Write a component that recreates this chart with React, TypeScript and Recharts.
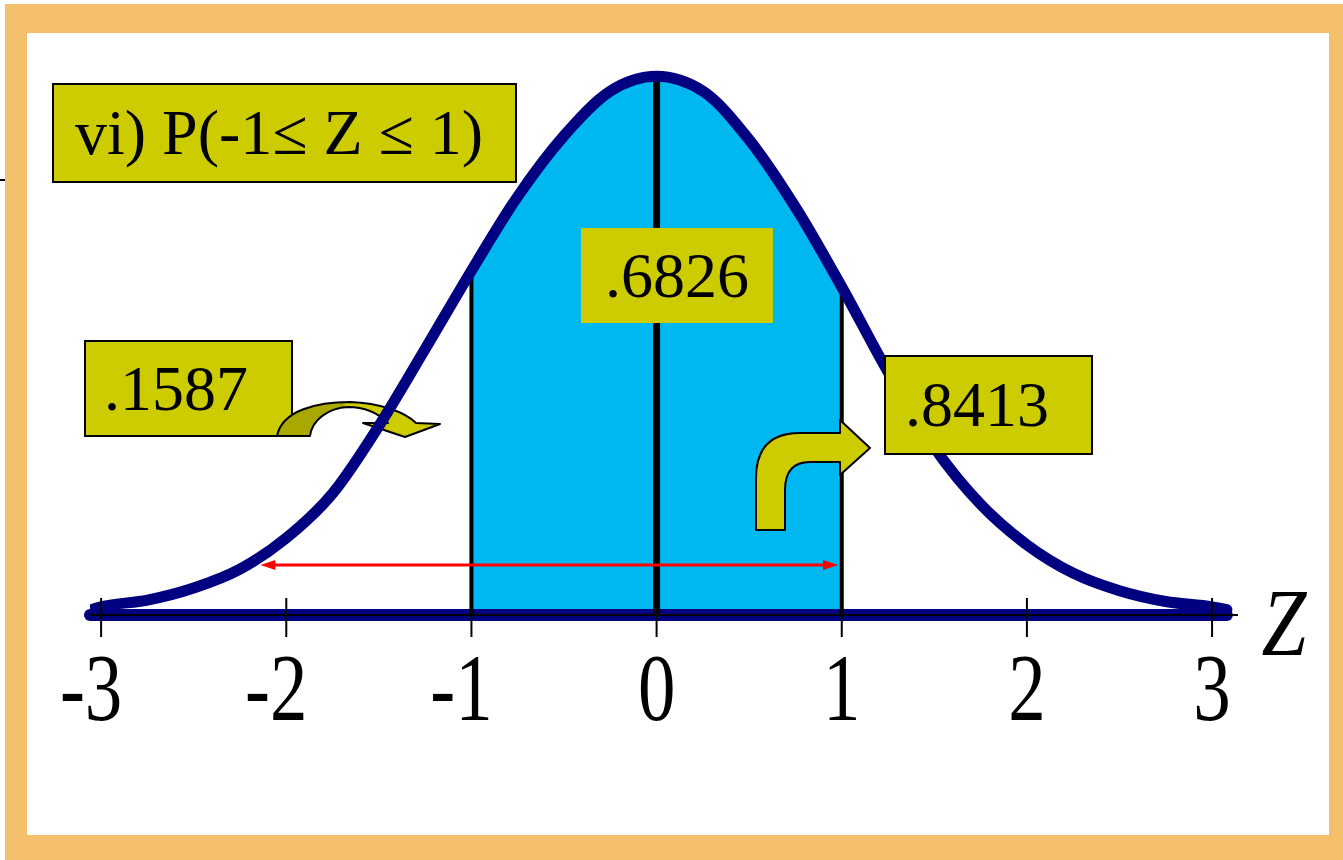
import {
  Area,
  ComposedChart,
  Line,
  ReferenceLine,
  XAxis,
  YAxis,
} from 'recharts';

// z positions and curve height (density units)
const zValues = [
  -3.05, -3, -2.75, -2.5, -2.25, -2, -1.75, -1.5, -1.25, -1, -0.75, -0.5, -0.25, 0,
  0.25, 0.5, 0.75, 1, 1.25, 1.5, 1.75, 2, 2.25, 2.5, 2.75, 3, 3.08,
];
const density = [
  0.004, 0.006, 0.011, 0.02, 0.034, 0.057, 0.09, 0.14, 0.197, 0.255, 0.31, 0.355, 0.388, 0.399,
  0.388, 0.352, 0.302, 0.243, 0.18, 0.124, 0.082, 0.052, 0.031, 0.018, 0.01, 0.006, 0.004,
];
const shadeFrom = -1;
const shadeTo = 1;
const tickValues = [-3, -2, -1, 0, 1, 2, 3];
const dividers = [-1, 0, 1];
const rangeArrow = { from: -2.14, to: 0.98, level: 0.037 };
const baseline = { from: -3.06, to: 3.08 };

const title = 'vi) P(-1\u2264 Z \u2264 1)';
const centerLabel = '.6826';
const leftLabel = '.1587';
const rightLabel = '.8413';

const NAVY = '#000080';
const CYAN = '#00B8F0';
const OLIVE = '#CCCC00';
const ORANGE = '#F4C06C';
const SERIF = '"Liberation Serif", "Times New Roman", serif';

const data = zValues.map((z, i) => ({
  z,
  density: density[i],
  shade: z >= shadeFrom && z <= shadeTo ? density[i] : null,
}));

function densityAt(z: number) {
  const i = zValues.indexOf(z);
  return i >= 0 ? density[i] : 0;
}

function ZTick(props: any) {
  const { x, y, payload } = props;
  const v = payload.value as number;
  const shift = v < 0 ? -10 : 0;
  return (
    <g>
      <line x1={x} x2={x} y1={y - 17} y2={y + 22} stroke="#000" strokeWidth={2} />
      <text
        transform={`translate(${x + shift}, ${y + 105}) scale(0.78, 1)`}
        textAnchor="middle"
        fontFamily={SERIF}
        fontSize={96}
        fill="#000"
      >
        {String(v)}
      </text>
    </g>
  );
}

function DoubleArrow(props: any) {
  const { x1, y1, x2, y2 } = props;
  const head = 15;
  const half = 5;
  return (
    <g>
      <line x1={x1 + head - 2} y1={y1} x2={x2 - head + 2} y2={y2} stroke="#FF0000" strokeWidth={3} />
      <polygon
        points={`${x1},${y1} ${x1 + head},${y1 - half} ${x1 + head},${y1 + half}`}
        fill="#FF0000"
      />
      <polygon
        points={`${x2},${y2} ${x2 - head},${y2 - half} ${x2 - head},${y2 + half}`}
        fill="#FF0000"
      />
    </g>
  );
}

const boxStyle = (left: number, top: number, w: number, h: number, border: boolean) => ({
  position: 'absolute' as const,
  left,
  top,
  width: w,
  height: h,
  boxSizing: 'border-box' as const,
  background: OLIVE,
  border: border ? '2px solid #000' : 'none',
  fontFamily: SERIF,
  fontSize: 64,
  color: '#000',
  display: 'flex',
  alignItems: 'center',
  whiteSpace: 'nowrap' as const,
});

export default function App() {
  return (
    <div style={{ position: 'absolute', left: 0, top: 0, width: 1343, height: 860, background: '#fff', overflow: 'hidden' }}>
      <div style={{ position: 'absolute', left: 5, top: 4, width: 1338, height: 856, background: ORANGE }} />
      <div style={{ position: 'absolute', left: 27, top: 33, width: 1302, height: 802, background: '#fff' }} />
      <div style={{ position: 'absolute', left: 0, top: 179, width: 5, height: 2, background: '#000' }} />

      <div style={{ ...boxStyle(84, 340, 209, 97, true), paddingLeft: 18 }}>{leftLabel}</div>

      {/* curved arrow from .1587 (over its box, under the curve) */}
      <svg width={1343} height={860} style={{ position: 'absolute', left: 0, top: 0 }}>
        <defs>
          <linearGradient id="curveArrow" gradientUnits="userSpaceOnUse" x1={277} y1={0} x2={440} y2={0}>
            <stop offset="0" stopColor="#A8A800" />
            <stop offset="0.42" stopColor="#A8A800" />
            <stop offset="0.42" stopColor={OLIVE} />
            <stop offset="1" stopColor={OLIVE} />
          </linearGradient>
        </defs>
        <path
          d="M 277 436 C 282 410, 318 402, 350 402 C 380 403, 405 412, 416 423 L 440 424 L 405 437 L 363 423 L 388 423 C 378 413, 365 407, 348 407 C 328 408, 312 420, 310 436 Z"
          fill="url(#curveArrow)"
          stroke="#000"
          strokeWidth={2}
          strokeLinejoin="round"
        />
      </svg>

      <div style={{ position: 'absolute', left: 0, top: 0 }}>
        <ComposedChart
          width={1343}
          height={860}
          data={data}
          margin={{ top: 48, right: 105, bottom: 185, left: 90 }}
        >
          <XAxis
            dataKey="z"
            type="number"
            domain={[-3.06, 3.14]}
            allowDataOverflow
            ticks={tickValues}
            tick={<ZTick />}
            tickLine={false}
            tickSize={0}
            tickMargin={0}
            axisLine={{ stroke: '#000', strokeWidth: 2 }}
            height={60}
            interval={0}
          />
          <YAxis type="number" domain={[0, 0.42]} hide allowDataOverflow />
          <Area
            dataKey="shade"
            type="monotone"
            fill={CYAN}
            fillOpacity={1}
            stroke="none"
            isAnimationActive={false}
            connectNulls={false}
          />
          <ReferenceLine
            segment={[
              { x: baseline.from, y: 0 },
              { x: baseline.to, y: 0 },
            ]}
            stroke={NAVY}
            strokeWidth={12}
            strokeLinecap="round"
          />
          {dividers.map((d) => (
            <ReferenceLine
              key={d}
              segment={[
                { x: d, y: 0 },
                { x: d, y: densityAt(d) },
              ]}
              stroke="#000"
              strokeWidth={d === 0 ? 7 : 4}
            />
          ))}
          <ReferenceLine
            segment={[
              { x: rangeArrow.from, y: rangeArrow.level },
              { x: rangeArrow.to, y: rangeArrow.level },
            ]}
            shape={<DoubleArrow />}
          />
          <Line
            dataKey="density"
            type="monotone"
            stroke={NAVY}
            strokeWidth={11}
            strokeLinejoin="round"
            strokeLinecap="round"
            dot={false}
            activeDot={false}
            isAnimationActive={false}
          />
        </ComposedChart>
      </div>

      {/* bent arrow to .8413 and Z label */}
      <svg width={1343} height={860} style={{ position: 'absolute', left: 0, top: 0 }}>
        <path
          d="M 756 530 L 756 478 Q 756 433 800 433 L 840 433 L 840 420 L 870 448 L 840 475 L 840 462 L 810 462 Q 785 462 785 490 L 785 530 Z"
          fill={OLIVE}
          stroke="#000"
          strokeWidth={2}
          strokeLinejoin="round"
        />
        <text
          transform="translate(1284, 655) scale(0.85, 1)"
          textAnchor="middle"
          fontFamily={SERIF}
          fontStyle="italic"
          fontSize={95}
          fill="#000"
        >
          Z
        </text>
      </svg>

      <div style={{ ...boxStyle(52, 83, 465, 100, true), paddingLeft: 21 }}>{title}</div>
      <div style={{ ...boxStyle(581, 228, 192, 95, false), justifyContent: 'center' }}>{centerLabel}</div>
      <div style={{ ...boxStyle(884, 355, 209, 100, true), paddingLeft: 19 }}>{rightLabel}</div>
    </div>
  );
}
